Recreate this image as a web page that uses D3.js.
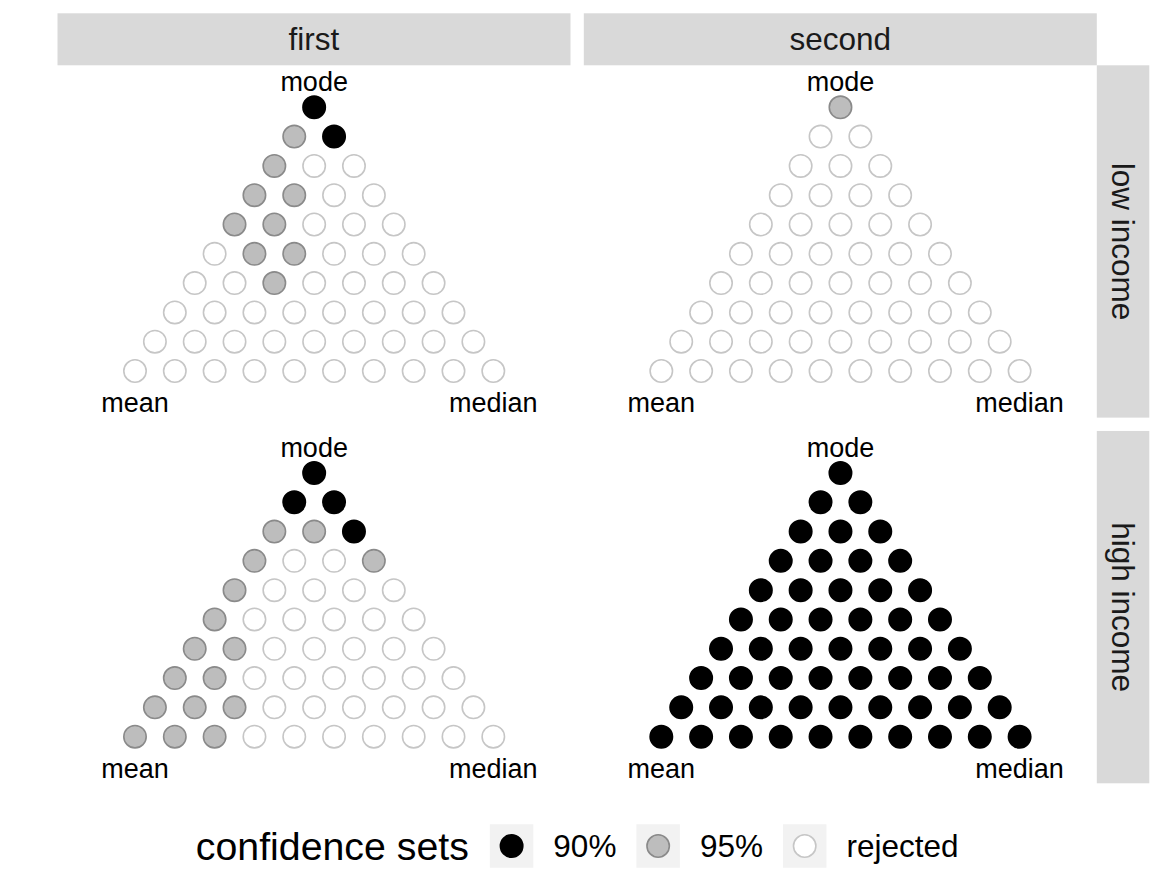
<!DOCTYPE html>
<html>
<head>
<meta charset="utf-8">
<script src="https://cdn.jsdelivr.net/npm/d3@7"></script>
<style>
  body { margin: 0; background: #fff; }
  text { font-family: "Liberation Sans", Arial, Helvetica, sans-serif; }
</style>
</head>
<body>
<div id="chart"></div>
<script>
// DATA
// one string per triangle row, top (mode) to bottom; 9 = 90%, 5 = 95%, x = rejected
const cols = ["first", "second"];
const rows = ["low income", "high income"];
const firstLow = ["9", "59", "5xx", "55xx", "55xxx", "x55xxx", "xx5xxxx", "xxxxxxxx", "xxxxxxxxx", "xxxxxxxxxx"];
const firstHigh = ["9", "99", "559", "5xx5", "5xxxx", "5xxxxx", "55xxxxx", "55xxxxxx", "555xxxxxx", "555xxxxxxx"];
const secondLow = ["5", "xx", "xxx", "xxxx", "xxxxx", "xxxxxx", "xxxxxxx", "xxxxxxxx", "xxxxxxxxx", "xxxxxxxxxx"];
const secondHigh = ["9", "99", "999", "9999", "99999", "999999", "9999999", "99999999", "999999999", "9999999999"];
const levels = ["9", "5", "x"];
const levelLabels = ["90%", "95%", "rejected"];
const vertexLabels = ["mode", "mean", "median"];

// CONSTANTS
const width = 1163,
    height = 894,
    stripH = 52,
    stripW = 52.5,
    margin = { top: 13.3, left: 57.5, right: 13.7 };

const panels = [
    { col: "first", row: "low income", cells: firstLow },
    { col: "second", row: "low income", cells: secondLow },
    { col: "first", row: "high income", cells: firstHigh },
    { col: "second", row: "high income", cells: secondHigh },
];

const fillScale = d3.scaleOrdinal().domain(levels).range(["#000000", "#bdbdbd", "#ffffff"]);
const strokeScale = d3.scaleOrdinal().domain(levels).range(["#000000", "#8a8a8a", "#c6c6c6"]);

const svg = d3.select("#chart")
    .append("svg")
    .attr("width", width)
    .attr("height", height);

// facet layout
const colScale = d3.scaleBand()
    .domain(cols)
    .range([margin.left, width - margin.right - stripW])
    .paddingInner(0.0253);

const rowScale = d3.scaleBand()
    .domain(rows)
    .range([margin.top + stripH, 783.3])
    .paddingInner(0.0365);

// column strips
svg.selectAll(".col-strip")
    .data(cols)
    .join("g")
    .attr("class", "col-strip")
    .each(function (c) {
        const g = d3.select(this);
        g.append("rect")
            .attr("x", colScale(c))
            .attr("y", margin.top)
            .attr("width", colScale.bandwidth())
            .attr("height", stripH)
            .attr("fill", "#d9d9d9");
        g.append("text")
            .attr("x", colScale(c) + colScale.bandwidth() / 2)
            .attr("y", margin.top + stripH / 2)
            .attr("dy", "0.35em")
            .attr("text-anchor", "middle")
            .attr("fill", "#1a1a1a")
            .style("font-size", "31.5px")
            .text(c);
    });

// row strips
const stripX = colScale("second") + colScale.bandwidth();
svg.selectAll(".row-strip")
    .data(rows)
    .join("g")
    .attr("class", "row-strip")
    .each(function (r) {
        const g = d3.select(this);
        g.append("rect")
            .attr("x", stripX)
            .attr("y", rowScale(r))
            .attr("width", stripW)
            .attr("height", rowScale.bandwidth())
            .attr("fill", "#d9d9d9");
        const cx = stripX + stripW / 2, cy = rowScale(r) + rowScale.bandwidth() / 2;
        g.append("text")
            .attr("transform", `translate(${cx},${cy}) rotate(90)`)
            .attr("dy", "0.35em")
            .attr("text-anchor", "middle")
            .attr("fill", "#1a1a1a")
            .style("font-size", "31.5px")
            .text(r);
    });

// panels
panels.forEach(p => {
    const px = colScale(p.col), py = rowScale(p.row);
    const xScale = d3.scaleLinear().domain([-4.5, 4.5]).range([px + 77.5, px + 435.8]);
    const yScale = d3.scaleLinear().domain([0, 9]).range([py + 42, py + 305.7]);

    const pts = [];
    p.cells.forEach((s, r) => {
        s.split("").forEach((lv, k) => {
            pts.push({ x: k - r / 2, y: r, level: lv });
        });
    });

    const g = svg.append("g");
    g.selectAll("circle")
        .data(pts)
        .join("circle")
        .attr("cx", d => xScale(d.x))
        .attr("cy", d => yScale(d.y))
        .attr("r", 11.2)
        .attr("fill", d => fillScale(d.level))
        .attr("stroke", d => strokeScale(d.level))
        .attr("stroke-width", 1.6);

    const labelPos = [
        { x: 0, y: 0, dy: -16 },
        { x: -4.5, y: 9, dy: 41 },
        { x: 4.5, y: 9, dy: 41 },
    ];
    g.selectAll(".vlabel")
        .data(vertexLabels)
        .join("text")
        .attr("class", "vlabel")
        .attr("x", (d, i) => xScale(labelPos[i].x))
        .attr("y", (d, i) => yScale(labelPos[i].y) + labelPos[i].dy)
        .attr("text-anchor", "middle")
        .attr("fill", "#000")
        .style("font-size", "27px")
        .text(d => d);
});

// legend
const legend = svg.append("g");
const title = legend.append("text")
    .attr("x", 0)
    .attr("y", 0)
    .attr("dy", "0.35em")
    .style("font-size", "39.3px")
    .attr("fill", "#000")
    .text("confidence sets");
let cursor = title.node().getComputedTextLength() + 21;
const keySize = 43.5;
levels.forEach((lv, i) => {
    legend.append("rect")
        .attr("x", cursor)
        .attr("y", -keySize / 2)
        .attr("width", keySize)
        .attr("height", keySize)
        .attr("fill", "#f2f2f2");
    legend.append("circle")
        .attr("cx", cursor + keySize / 2)
        .attr("cy", 0)
        .attr("r", 11.2)
        .attr("fill", fillScale(lv))
        .attr("stroke", strokeScale(lv))
        .attr("stroke-width", 1.6);
    const t = legend.append("text")
        .attr("x", cursor + keySize + 20)
        .attr("y", 0)
        .attr("dy", "0.35em")
        .style("font-size", "31.5px")
        .attr("fill", "#000")
        .text(levelLabels[i]);
    cursor += keySize + 20 + t.node().getComputedTextLength() + (i < levels.length - 1 ? 20 : 0);
});
const legendCenter = (colScale("first") + stripX) / 2;
legend.attr("transform", `translate(${legendCenter - cursor / 2},846)`);
</script>
</body>
</html>
